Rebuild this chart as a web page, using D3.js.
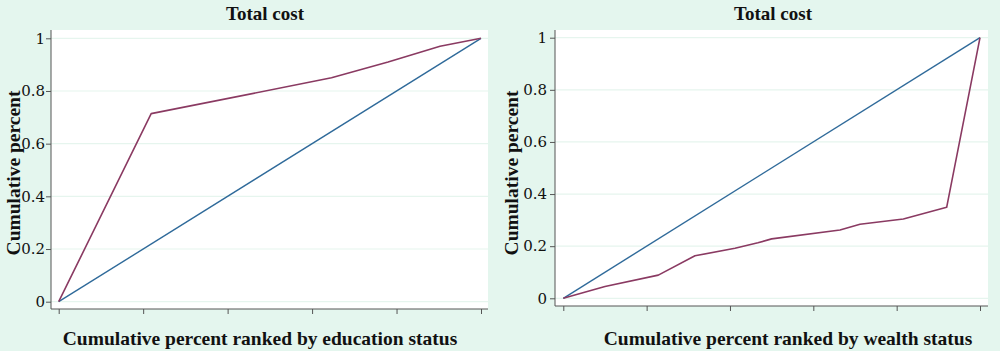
<!DOCTYPE html>
<html>
<head>
<meta charset="utf-8">
<script src="https://cdn.jsdelivr.net/npm/d3@7"></script>
<style>
  html, body { margin: 0; padding: 0; background: #e4f6ee; }
  svg { display: block; }
</style>
</head>
<body>
<svg id="chart" width="1000" height="351"></svg>
<script>
// ---- data ----
const panelTitles = ["Total cost", "Total cost"];
const xAxisTitles = ["Cumulative percent ranked by education status", "Cumulative percent ranked by wealth status"];
const yAxisTitle = "Cumulative percent";
const xTicks = [0, 0.2, 0.4, 0.6, 0.8, 1];
const yTicks = [0, 0.2, 0.4, 0.6, 0.8, 1];
const yTickLabels = ["0", "0.2", "0.4", "0.6", "0.8", "1"];

// line of equality
const equalityX = [0, 1];
const equalityY = [0, 1];

// concentration curve: education
const eduX = [0, 0.219, 0.646, 0.78, 0.903, 1];
const eduY = [0, 0.714, 0.850, 0.910, 0.970, 1];

// concentration curve: wealth
const wealthX = [0, 0.1, 0.228, 0.316, 0.412, 0.467, 0.5, 0.664, 0.712, 0.816, 0.92, 1];
const wealthY = [0, 0.045, 0.089, 0.163, 0.192, 0.213, 0.228, 0.262, 0.284, 0.304, 0.349, 1];

// ---- layout ----
const panels = [
  { frame: [51, 488, 30, 309], xr: [58.7, 481], yr: [301.7, 38.3], titleX: 265, xTitleX: 260, yTitleX: 20, tickPad: 1,
    cx: eduX, cy: eduY },
  { frame: [555, 988, 30, 306], xr: [563.3, 980], yr: [298.3, 37.7], titleX: 773, xTitleX: 788, yTitleX: 518, tickPad: 3,
    cx: wealthX, cy: wealthY }
];

const svg = d3.select("#chart");
const blue = "#2f6a9a";
const red = "#8a3a62";

panels.forEach((p, i) => {
  const [fx0, fx1, fy0, fy1] = p.frame;
  const x = d3.scaleLinear().domain([0, 1]).range(p.xr);
  const y = d3.scaleLinear().domain([0, 1]).range(p.yr);
  const g = svg.append("g");

  g.append("rect").attr("x", fx0).attr("y", fy0).attr("width", fx1 - fx0).attr("height", fy1 - fy0)
    .attr("fill", "#ffffff");

  // gridlines
  g.selectAll("line.grid").data(yTicks).join("line").attr("class", "grid")
    .attr("x1", fx0).attr("x2", fx1).attr("y1", d => y(d)).attr("y2", d => y(d))
    .attr("stroke", "#e6f5ee").attr("stroke-width", 1.2);

  // y axis
  const yAxis = d3.axisLeft(y).tickValues(yTicks).tickSize(5).tickPadding(p.tickPad)
    .tickFormat((d, k) => yTickLabels[k]);
  const ya = g.append("g").attr("transform", `translate(${fx0},0)`).call(yAxis);
  ya.select(".domain").attr("d", `M0,${fy0}V${fy1}`).attr("stroke", "#555");
  ya.selectAll(".tick line").attr("stroke", "#555");
  ya.selectAll("text").attr("font-family", "DejaVu Serif").attr("font-size", 15).attr("fill", "#111");

  // x axis
  const xAxis = d3.axisBottom(x).tickValues(xTicks).tickSize(5).tickFormat("");
  const xa = g.append("g").attr("transform", `translate(0,${fy1})`).call(xAxis);
  xa.select(".domain").attr("d", `M${fx0},0H${fx1}`).attr("stroke", "#555");
  xa.selectAll(".tick line").attr("stroke", "#555");

  const line = d3.line().x(d => x(d[0])).y(d => y(d[1]));
  g.append("path").datum(equalityX.map((v, k) => [v, equalityY[k]]))
    .attr("d", line).attr("fill", "none").attr("stroke", blue).attr("stroke-width", 1.4);
  g.append("path").datum(p.cx.map((v, k) => [v, p.cy[k]]))
    .attr("d", line).attr("fill", "none").attr("stroke", red).attr("stroke-width", 1.6)
    .attr("stroke-linejoin", "round");

  // titles
  g.append("text").attr("x", p.titleX).attr("y", 20).attr("text-anchor", "middle")
    .attr("font-family", "Liberation Serif").attr("font-weight", "bold").attr("font-size", 19)
    .attr("fill", "#111").text(panelTitles[i]);
  g.append("text").attr("x", p.xTitleX).attr("y", 345).attr("text-anchor", "middle")
    .attr("font-family", "Liberation Serif").attr("font-weight", "bold").attr("font-size", 19.5)
    .attr("fill", "#111").text(xAxisTitles[i]);
  g.append("text").attr("transform", `translate(${p.yTitleX},173) rotate(-90)`).attr("text-anchor", "middle")
    .attr("font-family", "Liberation Serif").attr("font-weight", "bold").attr("font-size", 19.5)
    .attr("fill", "#111").text(yAxisTitle);
});
</script>
</body>
</html>
